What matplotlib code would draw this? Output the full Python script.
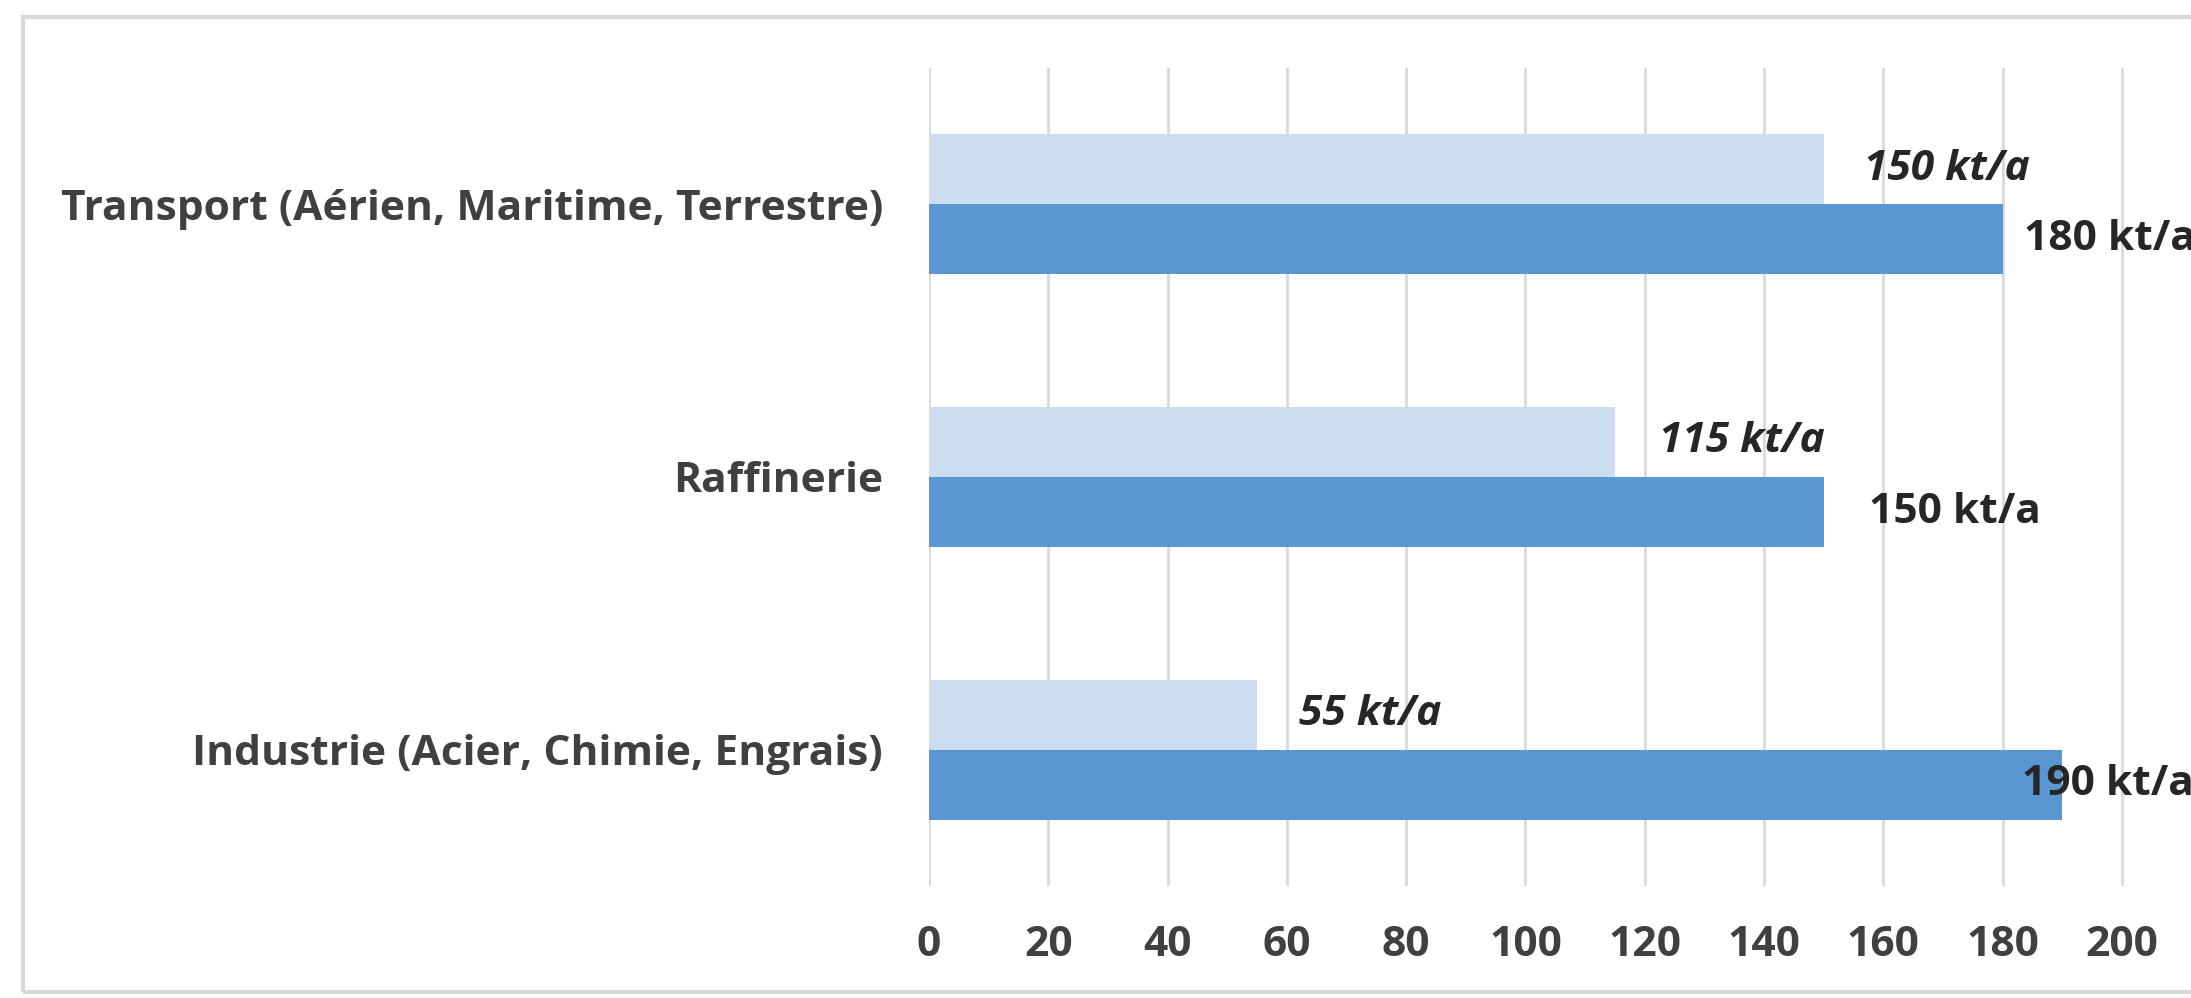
import matplotlib
matplotlib.use("Agg")
import matplotlib.pyplot as plt
from matplotlib.patches import Rectangle

# Data
categories = ["Transport (Aérien, Maritime, Terrestre)", "Raffinerie",
              "Industrie (Acier, Chimie, Engrais)"]
current_kt = [150, 115, 55]      # lighter bars (italic labels)
projected_kt = [180, 150, 190]   # darker bars
x_ticks = [0, 20, 40, 60, 80, 100, 120, 140, 160, 180, 200]

# Label x offsets in pixels from the bar end
light_offsets = [40, 44, 42]
dark_offsets = [21, 45, -40]

LIGHT = "#CCDDEF"
DARK = "#5A97D2"
GRID = "#D9D9D9"
TICK_TXT = "#404040"
LBL_TXT = "#262626"
FONT = "Open Sans"
FS = 30.6

W, H, DPI = 2191, 998, 100
fig = plt.figure(figsize=(W / DPI, H / DPI), dpi=DPI)
fig.patch.set_facecolor("white")

# Chart frame
fig.patches.append(Rectangle((23 / W, 1 - 992 / H), (2300 - 23) / W, (992 - 17) / H,
                             transform=fig.transFigure, fill=False,
                             edgecolor="#D9D9D9", linewidth=3, zorder=0))

left_px, top_px, bottom_px = 929, 68, 886
px_per_unit = 5.965
xmax = 220
ax = fig.add_axes([left_px / W, 1 - bottom_px / H,
                   xmax * px_per_unit / W, (bottom_px - top_px) / H])
ax.set_facecolor("none")

ypos = list(range(len(categories)))
bh = 0.257
ax.barh([y - bh / 2 for y in ypos], current_kt, height=bh, color=LIGHT, zorder=2)
ax.barh([y + bh / 2 for y in ypos], projected_kt, height=bh, color=DARK, zorder=2)

ax.set_xlim(0, xmax)
ax.set_ylim(len(categories) - 0.5, -0.5)
ax.set_xticks(x_ticks)
ax.set_xticklabels([str(t) for t in x_ticks])
ax.set_yticks(ypos)
ax.set_yticklabels(categories)
ax.xaxis.grid(True, color=GRID, linewidth=2, zorder=1)
ax.set_axisbelow(True)
for s in ax.spines.values():
    s.set_visible(False)
ax.tick_params(axis="both", length=0)
ax.tick_params(axis="y", pad=33)
ax.tick_params(axis="x", pad=28)
for lab in ax.get_xticklabels() + ax.get_yticklabels():
    lab.set_fontfamily(FONT)
    lab.set_fontweight("bold")
    lab.set_fontsize(FS)
    lab.set_color(TICK_TXT)

pt_per_px = 72 / DPI
for y, v, off in zip(ypos, current_kt, light_offsets):
    ax.annotate(f"{v} kt/a", (v, y - bh / 2), xytext=(off * pt_per_px, 0),
                textcoords="offset points", ha="left", va="center",
                fontfamily=FONT, fontweight="bold", fontstyle="italic",
                fontsize=FS, color=LBL_TXT, zorder=3)
for y, v, off in zip(ypos, projected_kt, dark_offsets):
    ax.annotate(f"{v} kt/a", (v, y + bh / 2), xytext=(off * pt_per_px, 0),
                textcoords="offset points", ha="left", va="center",
                fontfamily=FONT, fontweight="bold",
                fontsize=FS, color=LBL_TXT, zorder=3, annotation_clip=False)

fig.savefig("out.png", dpi=DPI)
